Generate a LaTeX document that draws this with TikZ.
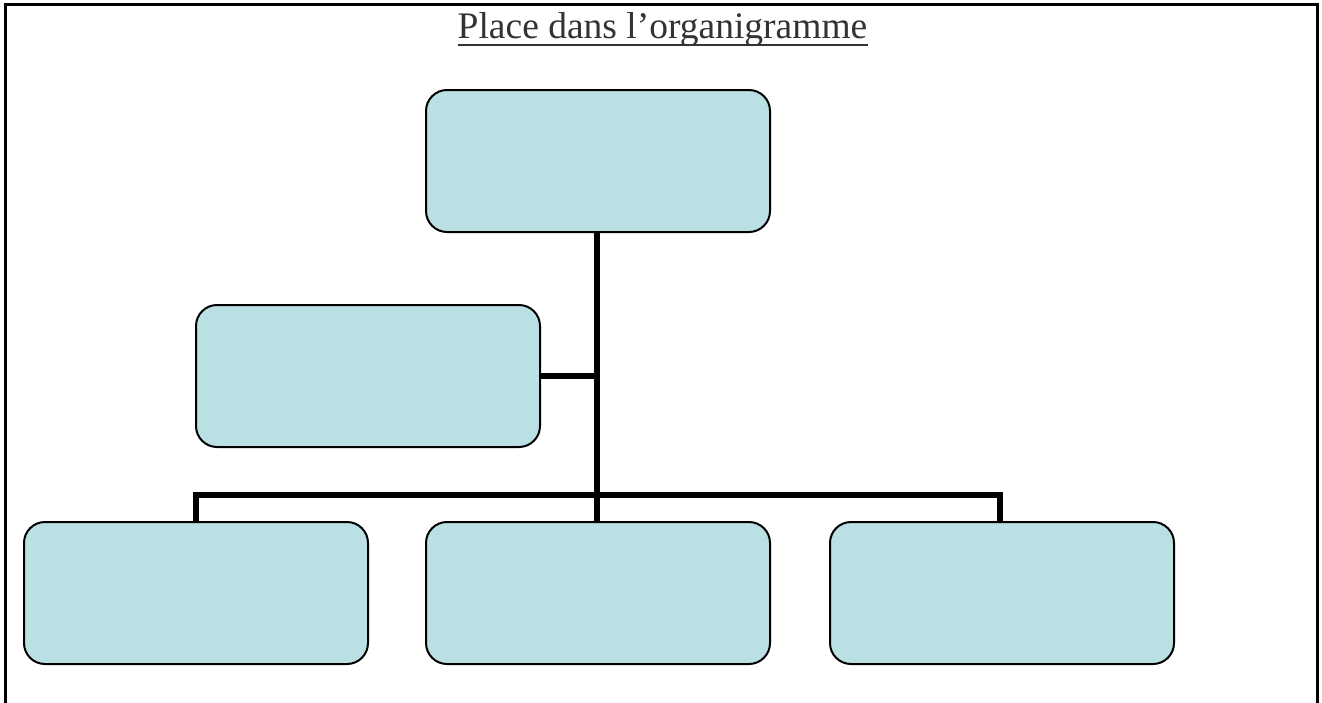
\documentclass[tikz,border=0pt]{standalone}
\usepackage{fontspec}
\setmainfont{Liberation Serif}
\definecolor{boxfill}{RGB}{187,224,227}
\definecolor{titlegray}{RGB}{51,51,51}
\begin{document}
\begin{tikzpicture}[x=1pt,y=-1pt,
  orgbox/.style={draw=black,line width=2pt,fill=boxfill,rounded corners=21pt,minimum width=344pt,minimum height=142pt,inner sep=0pt,anchor=north west},
  link/.style={line width=5.5pt,draw=black}]
\useasboundingbox (0,0) rectangle (1322,702);
\draw[line width=3pt] (5.5,710) -- (5.5,4.5) -- (1317.5,4.5) -- (1317.5,710);
\node[font=\fontsize{37.5}{40}\selectfont,text=titlegray,anchor=base,inner sep=0pt] (title) at (662.5,38) {Place dans l’organigramme};
\draw[titlegray,line width=2.2pt] ([yshift=-7pt]title.base west) -- ([yshift=-7pt]title.base east);
\node[orgbox] (top) at (425,89) {};
\node[orgbox] (mid) at (195,304) {};
\node[orgbox] (b1) at (23,521) {};
\node[orgbox] (b2) at (425,521) {};
\node[orgbox] (b3) at (829,521) {};
\coordinate (bus) at (597,495);
\coordinate (bl) at (b1.north |- bus);
\coordinate (br) at (1000,495);
\draw[link] (top.south -| bus) -- (b2.north -| bus);
\draw[link] (mid.east) -- (mid.east -| bus);
\draw[link] (b1.north -| bl) -- (bl) -- (br) -- (br |- b3.north);
\end{tikzpicture}
\end{document}
